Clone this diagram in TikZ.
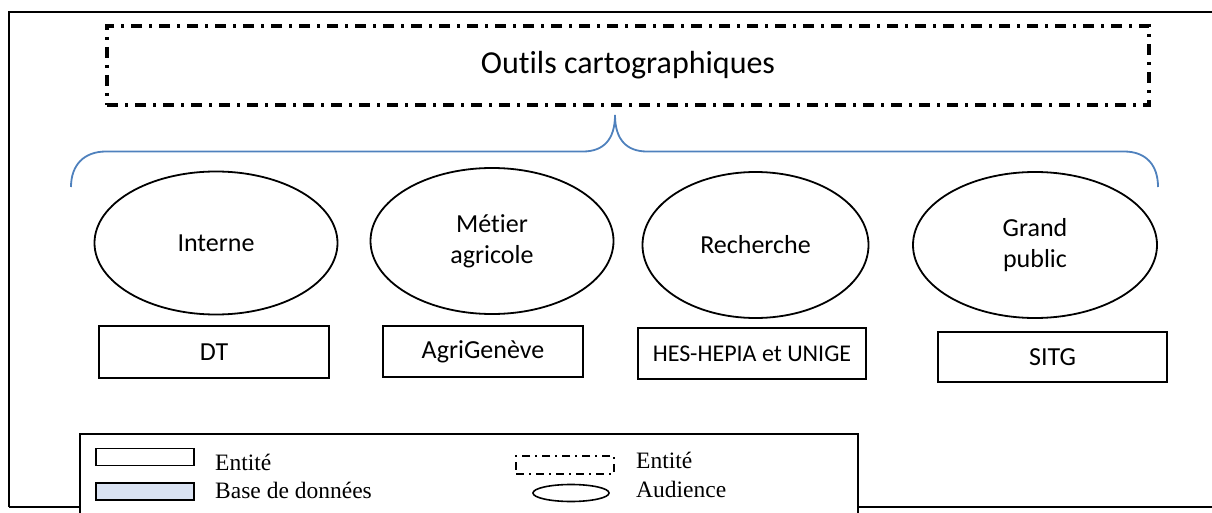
\documentclass[tikz,border=0pt]{standalone}
\usepackage{fontspec}
\setmainfont[Ligatures=NoCommon]{Carlito}
\newfontfamily\legfont{Liberation Serif}
\usetikzlibrary{shapes.geometric}
\definecolor{braceblue}{HTML}{4F81BD}
\definecolor{dbfill}{HTML}{DAE3F3}
\tikzset{
  aud/.style={draw, line width=1.8pt, ellipse, inner sep=0pt, align=center,
    font=\fontsize{26}{31}\selectfont},
  ent/.style={draw, line width=1.8pt, rectangle, inner sep=0pt,
    font=\fontsize{26}{31}\selectfont},
  dashdotline/.style={line width=3.2pt, dash pattern=on 11pt off 7pt on 3pt off 7pt},
  legtext/.style={anchor=west, inner sep=0pt, font=\legfont\fontsize{23.5}{27}\selectfont},
}
\begin{document}
\begin{tikzpicture}[x=1pt,y=-1pt]
\useasboundingbox (0,0) rectangle (1212,513);
\clip (0,0) rectangle (1212,513);
% outer frame
\draw[line width=2.8pt] (9,507) -- (9,12) -- (1220,12);
\draw[line width=2.8pt] (9,507) -- (1220,507);
% title box
\node[draw, dashdotline, rectangle, minimum width=1042pt, minimum height=79pt, inner sep=0pt,
  font=\fontsize{32}{38}\selectfont] (tools) at (628,65.5) {Out\kern0pt ils cartographiques};
% brace
\coordinate (bl) at (71,187);
\coordinate (br) at (1158,187);
\coordinate (cusp) at (615,115);
\draw[braceblue, line width=1.8pt] (bl) .. controls (71,165) and (84,151.5) .. (106,151.5)
  -- (583,151.5) .. controls (603,151.5) and (615,140) .. (cusp)
  .. controls (615,140) and (627,151.5) .. (647,151.5)
  -- (1124,151.5) .. controls (1146,151.5) and (1158,165) .. (br);
% audiences
\node[aud, minimum width=243pt, minimum height=143pt] (interne) at (216,243) {Interne};
\node[aud, minimum width=243pt, minimum height=146pt] (metier) at (492,241) {Mét\kern0pt ier\\agricole};
\node[aud, minimum width=226pt, minimum height=146pt] (recherche) at (755.5,245) {Recherche};
\node[aud, minimum width=244pt, minimum height=146pt] (public) at (1035,245) {Grand\\public};
% entities
\node[ent, minimum width=230pt, minimum height=52pt] (dt) at (214,352) {DT};
\node[ent, minimum width=200pt, minimum height=51pt] (agri) at (483,351.5) {AgriGenève};
\node[ent, minimum width=228pt, minimum height=51pt, font=\fontsize{24}{29}\selectfont]
  (hes) at (752,353.5) {HES-HEPIA et UNIGE};
\node[ent, minimum width=229pt, minimum height=50pt] (sitg) at (1052.5,357) {SITG};
% legend
\node[draw, fill=white, line width=2pt, rectangle, minimum width=778pt, minimum height=100pt,
  inner sep=0pt] (legend) at (469,484) {};
\node[draw, line width=1.6pt, rectangle, minimum width=98pt, minimum height=17pt, inner sep=0pt]
  (lent) at (145,457) {};
\node[draw, fill=dbfill, line width=1.6pt, rectangle, minimum width=98pt, minimum height=17pt, inner sep=0pt]
  (ldb) at (145,491.5) {};
\node[legtext] (tent) at (215,462) {Entité};
\node[legtext] (tdb) at (215,490) {Base de données};
\node[draw, line width=1.5pt, dash pattern=on 8pt off 5pt on 2pt off 5pt, rectangle,
  minimum width=98pt, minimum height=18pt, inner sep=0pt] (lent2) at (565,465) {};
\node[draw, line width=1.6pt, ellipse, minimum width=76pt, minimum height=17pt, inner sep=0pt]
  (laud) at (571,493) {};
\node[legtext] (tent2) at (636,460) {Entité};
\node[legtext] (taud) at (636,489) {Audience};
\end{tikzpicture}
\end{document}
